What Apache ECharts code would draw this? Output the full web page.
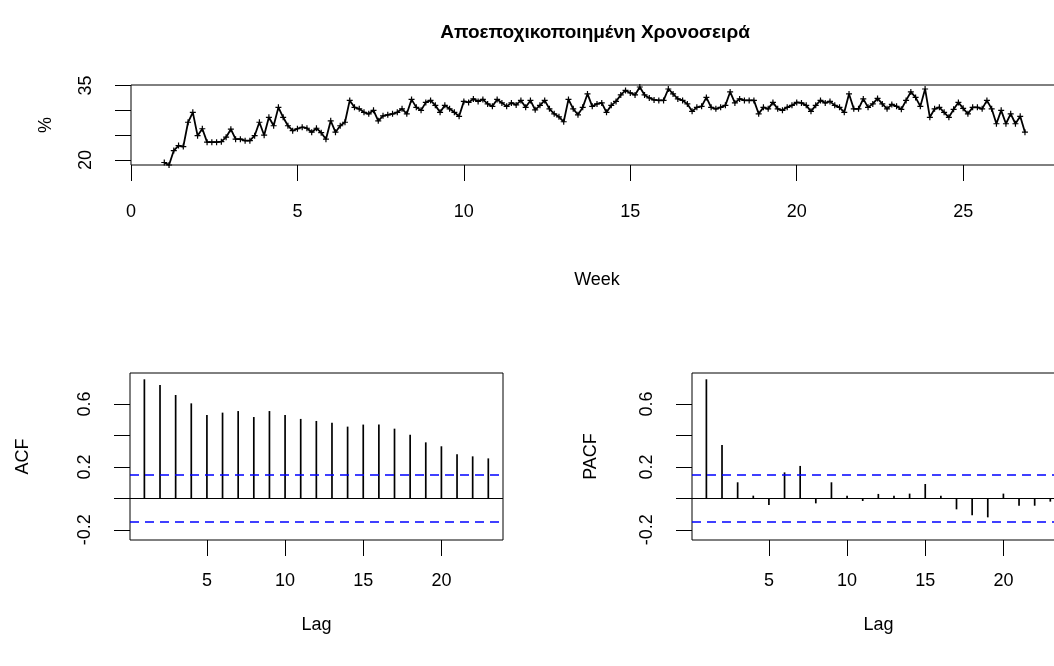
<!DOCTYPE html>
<html>
<head>
<meta charset="utf-8">
<script src="https://cdn.jsdelivr.net/npm/echarts@6/dist/echarts.min.js"></script>
<style>
  html, body { margin: 0; padding: 0; background: #fff; }
  #chart { width: 1054px; height: 666px; }
</style>
</head>
<body>
<div id="chart"></div>
<script>
// εβδομαδιαία χρονοσειρά (συχνότητα 7), ξεκινά στην εβδομάδα 1
const seriesStart = 1
const seriesFreq = 7
const seasAdj = [
  19.5, 19.0, 21.9, 22.9, 22.7, 27.6, 29.6, 24.9, 26.3, 23.6,
  23.6, 23.6, 23.7, 24.6, 26.2, 24.2, 24.2, 23.9, 23.9, 24.9,
  27.6, 25.0, 28.6, 26.9, 30.6, 28.6, 26.9, 25.9, 26.3, 26.6,
  26.4, 25.6, 26.4, 25.5, 24.2, 27.9, 25.6, 26.9, 27.6, 32.0,
  30.6, 30.3, 29.6, 29.3, 30.0, 27.9, 28.9, 29.1, 29.3, 29.6,
  30.3, 29.3, 32.2, 30.6, 30.0, 31.6, 32.0, 31.0, 29.6, 31.0,
  30.3, 29.6, 28.8, 31.8, 31.6, 32.3, 31.8, 32.2, 31.3, 30.8,
  32.2, 31.5, 30.8, 31.5, 31.1, 32.0, 30.6, 32.0, 30.1, 31.0,
  32.0, 30.3, 29.3, 28.7, 27.7, 32.2, 30.3, 29.1, 30.6, 33.3,
  30.8, 31.3, 31.5, 29.6, 31.0, 31.8, 33.1, 34.0, 33.5, 33.1,
  34.7, 33.1, 32.5, 32.1, 32.0, 32.0, 34.3, 33.3, 32.3, 32.0,
  31.3, 29.8, 30.6, 30.8, 32.6, 30.6, 30.3, 30.6, 31.0, 33.7,
  31.5, 32.3, 32.0, 32.0, 32.0, 29.3, 30.6, 30.3, 31.6, 30.3,
  30.0, 30.6, 31.0, 31.6, 31.5, 31.0, 29.8, 31.0, 32.0, 31.5,
  31.8, 31.0, 30.6, 29.6, 33.3, 30.3, 30.3, 32.3, 30.6, 31.3,
  32.4, 31.3, 30.3, 31.2, 30.8, 30.2, 32.0, 33.7, 32.6, 30.8,
  34.3, 28.6, 30.3, 30.6, 29.6, 28.6, 30.2, 31.6, 30.4, 29.3,
  30.6, 30.6, 30.3, 32.0, 30.3, 27.3, 30.0, 27.3, 29.3, 27.3,
  28.8, 25.6
]
const acfVals = [0.757, 0.721, 0.657, 0.604, 0.530, 0.545, 0.555, 0.517, 0.555, 0.530,
  0.505, 0.492, 0.481, 0.456, 0.469, 0.469, 0.443, 0.405, 0.356, 0.331, 0.280, 0.267, 0.254]
const pacfVals = [0.757, 0.339, 0.102, 0.017, -0.042, 0.165, 0.206, -0.032, 0.102, 0.017,
  -0.017, 0.028, 0.017, 0.030, 0.091, 0.017, -0.070, -0.108, -0.121, 0.030, -0.047, -0.047, -0.021]
const ciBound = 0.148
const weekTicks = [0, 5, 10, 15, 20, 25]
const pctTicks = [20, 25, 30, 35]
const pctLabels = [20, 35]
const lagTicks = [5, 10, 15, 20]
const corrTicks = [-0.2, 0, 0.2, 0.4, 0.6]
const corrLabels = [-0.2, 0.2, 0.6]

const FONT = "'Liberation Sans', Arial, sans-serif"
const plusPath = 'path://M2,0H3V2H5V3H3V5H2V3H0V2H2Z'

let tsData = seasAdj.map((v, i) => [seriesStart + i / seriesFreq, v])
let lagData = arr => arr.map((v, i) => [i + 1, v])

function xAx(gridIndex, min, max, ticks, name, nameGap, margin) {
  return {
    type: 'value', gridIndex: gridIndex, min: min, max: max,
    name: name, nameLocation: 'middle', nameGap: nameGap,
    nameTextStyle: { fontFamily: FONT, fontSize: 18, color: '#000' },
    axisLine: { show: false, onZero: false },
    axisTick: { show: true, length: 16, customValues: ticks, lineStyle: { color: '#000', width: 1 } },
    axisLabel: { show: true, customValues: ticks, margin: margin, fontFamily: FONT, fontSize: 18, color: '#000' },
    splitLine: { show: false }
  }
}
function yAx(gridIndex, min, max, ticks, labels, name, nameGap, fmt) {
  return {
    type: 'value', gridIndex: gridIndex, min: min, max: max,
    name: name, nameLocation: 'middle', nameGap: nameGap,
    nameTextStyle: { fontFamily: FONT, fontSize: 18, color: '#000' },
    axisLine: { show: false, onZero: false },
    axisTick: { show: true, length: 16, customValues: ticks, lineStyle: { color: '#000', width: 1 } },
    axisLabel: {
      show: true, customValues: labels, rotate: 90, margin: 36,
      fontFamily: FONT, fontSize: 18, color: '#000', formatter: fmt
    },
    splitLine: { show: false }
  }
}
let refLines = {
  silent: true, symbol: 'none', label: { show: false },
  data: [
    { yAxis: 0, lineStyle: { color: '#000', width: 1, type: 'solid' } },
    { yAxis: ciBound, lineStyle: { color: '#0000ff', width: 1.5, type: [9, 6] } },
    { yAxis: -ciBound, lineStyle: { color: '#0000ff', width: 1.5, type: [9, 6] } }
  ]
}
let corrFmt = v => (Math.round(v * 10) / 10).toFixed(1)
let gridBase = { show: true, borderColor: '#000', borderWidth: 1, backgroundColor: 'transparent', outerBoundsMode: 'none', containLabel: false }

let option = {
  animation: false,
  backgroundColor: '#fff',
  title: {
    text: 'Αποεποχικοποιημένη Χρονοσειρά',
    left: 590, top: 18, textAlign: 'center',
    textStyle: { fontFamily: FONT, fontSize: 19, fontWeight: 'bold', color: '#000' }
  },
  grid: [
    Object.assign({ left: 131, top: 85, width: 932, height: 80 }, gridBase),
    Object.assign({ left: 130, top: 373, width: 373, height: 167 }, gridBase),
    Object.assign({ left: 692, top: 373, width: 373, height: 167 }, gridBase)
  ],
  xAxis: [
    xAx(0, 0, 28, weekTicks, 'Week', 106, 38),
    xAx(1, 0.08, 23.94, lagTicks, 'Lag', 76, 32),
    xAx(2, 0.08, 23.94, lagTicks, 'Lag', 76, 32)
  ],
  yAxis: [
    yAx(0, 19.0, 35.1, pctTicks, pctLabels, '%', 76, v => String(Math.round(v))),
    yAx(1, -0.265, 0.797, corrTicks, corrLabels, 'ACF', 98, corrFmt),
    yAx(2, -0.265, 0.797, corrTicks, corrLabels, 'PACF', 92, corrFmt)
  ],
  series: [
    {
      type: 'line', xAxisIndex: 0, yAxisIndex: 0, data: tsData,
      symbol: plusPath, symbolSize: 6, showSymbol: true,
      lineStyle: { color: '#000', width: 1.8 },
      itemStyle: { color: '#000' }, silent: true
    },
    {
      type: 'bar', xAxisIndex: 1, yAxisIndex: 1, data: lagData(acfVals),
      barWidth: 1.7, itemStyle: { color: '#000' }, silent: true,
      markLine: refLines
    },
    {
      type: 'bar', xAxisIndex: 2, yAxisIndex: 2, data: lagData(pacfVals),
      barWidth: 1.7, itemStyle: { color: '#000' }, silent: true,
      markLine: refLines
    }
  ]
}

let chart = echarts.init(document.getElementById('chart'), null, { renderer: 'canvas' })
chart.setOption(option)
</script>
</body>
</html>
